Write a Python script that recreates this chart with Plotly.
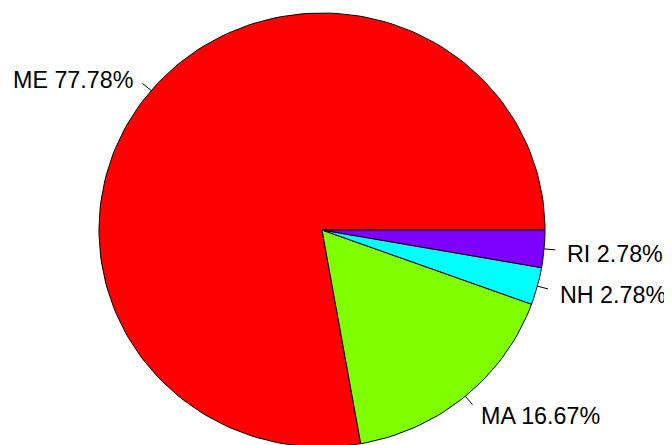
import numpy as np
import plotly.graph_objects as go

labels = ["ME", "MA", "NH", "RI"]
counts = [28, 6, 1, 1]
colors = ["#FF0000", "#80FF00", "#00FFFF", "#8000FF"]

W, H = 672, 445
OFF = 8  # default page body margin
cx, cy = 322.0, 230.0
rx, ry = 223.0, 217.0

total = float(sum(counts))
fracs = [c / total for c in counts]
cum = np.concatenate([[0.0], np.cumsum(fracs)])

fig = go.Figure()

for i, lab in enumerate(labels):
    a0, a1 = 2 * np.pi * cum[i], 2 * np.pi * cum[i + 1]
    n = max(2, int(np.ceil(200 * (a1 - a0) / (2 * np.pi))))
    t = np.linspace(a0, a1, n + 1)
    xs = np.concatenate([[cx], cx + rx * np.cos(t), [cx]])
    ys = np.concatenate([[cy], cy - ry * np.sin(t), [cy]])
    fig.add_trace(go.Scatter(x=xs, y=ys, mode="lines", fill="toself",
                             fillcolor=colors[i],
                             line=dict(color="black", width=1),
                             hoverinfo="skip", showlegend=False))

for i, lab in enumerate(labels):
    mid = 2 * np.pi * (cum[i] + cum[i + 1]) / 2
    c, s = np.cos(mid), np.sin(mid)
    fig.add_trace(go.Scatter(x=[cx + rx * c, cx + 1.05 * rx * c],
                             y=[cy - ry * s, cy - 1.05 * ry * s],
                             mode="lines", line=dict(color="black", width=1),
                             hoverinfo="skip", showlegend=False))
    fig.add_annotation(x=cx + 1.1 * rx * c, y=cy - 1.1 * ry * s + 3,
                       xref="x", yref="y",
                       text=f"{lab} {100 * fracs[i]:.2f}%",
                       showarrow=False,
                       xanchor="left" if c > 0 else "right",
                       yanchor="middle",
                       borderpad=0,
                       font=dict(family="Liberation Sans, Arial, sans-serif",
                                 size=23.3, color="black"))

fig.update_layout(
    width=W, height=H,
    margin=dict(l=0, r=0, t=0, b=0),
    paper_bgcolor="white", plot_bgcolor="white",
    xaxis=dict(range=[OFF, W + OFF], visible=False, fixedrange=True),
    yaxis=dict(range=[H + OFF, OFF], visible=False, fixedrange=True),
    showlegend=False,
)

fig.write_html("out.html")
